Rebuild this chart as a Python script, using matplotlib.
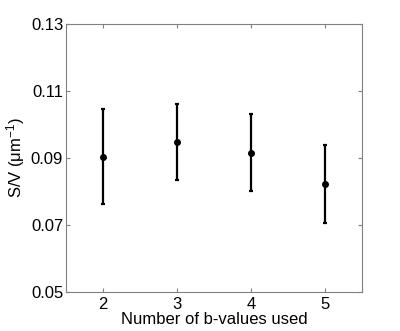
import matplotlib
matplotlib.use("Agg")
import matplotlib.pyplot as plt

plt.rcParams['font.family'] = ['Liberation Sans', 'DejaVu Sans']
plt.rcParams['mathtext.fontset'] = 'custom'
plt.rcParams['mathtext.rm'] = 'Liberation Sans'

n_bvalues = [2, 3, 4, 5]
sv_mean = [0.0903, 0.0947, 0.0915, 0.0821]
sv_upper = [0.1047, 0.1062, 0.1032, 0.0938]
sv_lower = [0.0761, 0.0835, 0.0801, 0.0705]
xticks = [2, 3, 4, 5]
yticks = [0.05, 0.07, 0.09, 0.11, 0.13]
ytick_labels = ['0.05', '0.07', '0.09', '0.11', '0.13']

fig = plt.figure(figsize=(4.0, 3.31), dpi=100)
ax = fig.add_axes([0.165, 0.119, 0.74, 0.808])

err_lo = [m - l for m, l in zip(sv_mean, sv_lower)]
err_hi = [u - m for m, u in zip(sv_mean, sv_upper)]
ax.errorbar(n_bvalues, sv_mean, yerr=[err_lo, err_hi], fmt='o', color='black',
            ecolor='black', elinewidth=1.6, capsize=1.6, capthick=1.6,
            markersize=4)

ax.set_xlim(1.5, 5.5)
ax.set_ylim(0.05, 0.13)
ax.set_xticks(xticks)
ax.set_yticks(yticks)
ax.set_yticklabels(ytick_labels)
ax.tick_params(direction='in', length=3, width=0.8, color='#808080',
               labelsize=12, top=True, right=True, pad=2)
ax.tick_params(axis='x', pad=4)
for s in ax.spines.values():
    s.set_color('#808080')
    s.set_linewidth(0.8)

ax.set_xlabel('Number of b-values used', fontsize=12, labelpad=0)
ax.set_ylabel(r'S/V ($\mathrm{\mu m^{-1}}$)', fontsize=12, labelpad=3)

fig.savefig('out.png', dpi=100)
